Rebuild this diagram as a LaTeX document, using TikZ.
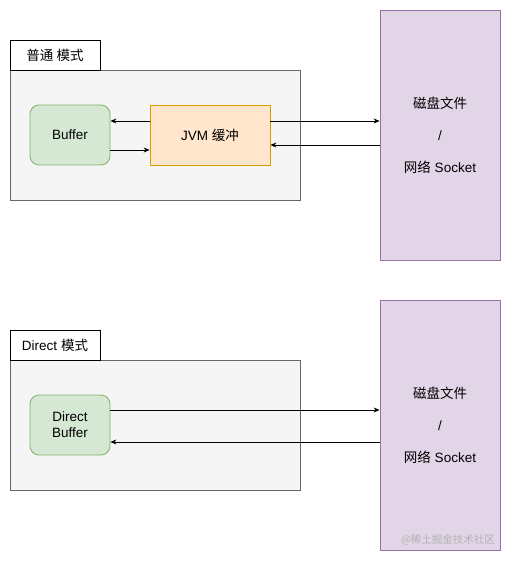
\documentclass[tikz,border=0pt]{standalone}
\usepackage{fontspec}
\setmainfont{Liberation Sans}
\newfontfamily\cjk{Noto Sans CJK SC}
\usetikzlibrary{arrows.meta}
\definecolor{modeFill}{HTML}{F5F5F5}
\definecolor{modeLine}{HTML}{666666}
\definecolor{bufFill}{HTML}{D5E8D4}
\definecolor{bufLine}{HTML}{82B366}
\definecolor{jvmFill}{HTML}{FFE6CC}
\definecolor{jvmLine}{HTML}{D79B00}
\definecolor{diskFill}{HTML}{E1D5E7}
\definecolor{diskLine}{HTML}{9673A6}
\tikzset{
  modebox/.style={draw=modeLine, fill=modeFill, minimum width=290pt, minimum height=130pt, inner sep=0pt},
  modetag/.style={draw=black, fill=white, minimum width=90pt, minimum height=30pt, inner sep=0pt},
  bufbox/.style={draw=bufLine, fill=bufFill, rounded corners=9pt, minimum width=80pt, minimum height=60pt, inner sep=0pt, align=center},
  jvmbox/.style={draw=jvmLine, fill=jvmFill, minimum width=120pt, minimum height=60pt, inner sep=0pt},
  diskbox/.style={draw=diskLine, fill=diskFill, minimum width=120pt, minimum height=250pt, inner sep=0pt, align=center},
  flow/.style={-{Stealth[length=6pt,width=5pt,inset=2pt]}, line width=0.8pt}
}
\begin{document}
\begin{tikzpicture}[x=1pt, y=-1pt, line width=0.8pt, font=\fontsize{13.5}{16}\selectfont]
\useasboundingbox (0,0) rectangle (511,561);
% upper part: through the JVM
\node[modebox] (top) at (155,135) {};
\node[modetag] (toptag) at (55,55) {\cjk 普通 模式};
\node[bufbox] (buf) at (70,135) {Buffer};
\node[jvmbox] (jvm) at (210,135) {JVM \cjk 缓冲};
\node[diskbox] (disk) at (440,135) {\cjk 磁盘文件\\[16pt]/\\[16pt]\cjk 网络\rmfamily{} Socket};
\draw[flow] ([yshift=14pt]jvm.west) -- ([yshift=14pt]buf.east);
\draw[flow] ([yshift=-15pt]buf.east) -- ([yshift=-15pt]jvm.west);
\draw[flow] ([yshift=14pt]jvm.east) -- ([yshift=14pt]jvm.east -| disk.west);
\draw[flow] ([yshift=-10pt]jvm.east -| disk.west) -- ([yshift=-10pt]jvm.east);
% lower part: direct buffer
\node[modebox] (low) at (155,425) {};
\node[modetag] (lowtag) at (55,345) {Direct \cjk 模式};
\node[bufbox] (dbuf) at (70,425) {Direct\\Buffer};
\node[diskbox] (ddisk) at (440,425) {\cjk 磁盘文件\\[16pt]/\\[16pt]\cjk 网络\rmfamily{} Socket};
\draw[flow] ([yshift=15pt]dbuf.east) -- ([yshift=15pt]dbuf.east -| ddisk.west);
\draw[flow] ([yshift=-17pt]dbuf.east -| ddisk.west) -- ([yshift=-17pt]dbuf.east);
% watermark
\node[text=black!30, font=\cjk\fontsize{10.5}{12}\selectfont] (mark) at (448,540) {@稀土掘金技术社区};
\end{tikzpicture}
\end{document}
